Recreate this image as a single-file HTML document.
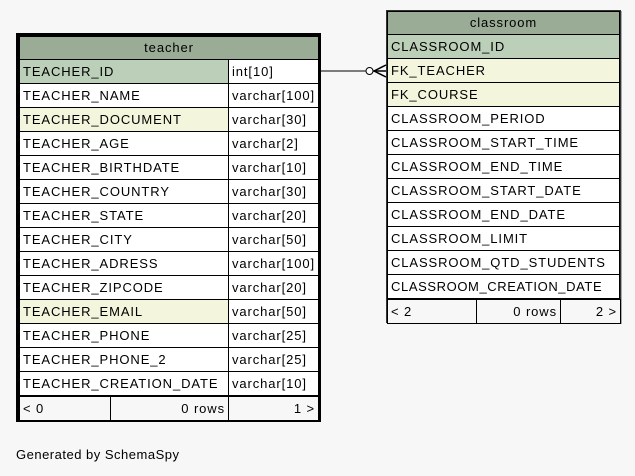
<!DOCTYPE html>
<html><head><style>
body{margin:0;width:635px;height:476px;background:#f7f7f7;font-family:"Liberation Sans",Arial,sans-serif;font-size:13px;position:relative;overflow:hidden}
.box{position:absolute;box-sizing:border-box}
table{border-collapse:collapse;table-layout:fixed;width:100%}
td{border:1px solid #000;height:24px;padding:0 3px;white-space:nowrap;overflow:hidden;line-height:20px;box-sizing:border-box;background:#fff;letter-spacing:0.9px}
td.h{background:#9aab96;text-align:center;height:23px}
td.pk{background:#bccfb8}
td.fk{background:#f3f5dc}
td.r{text-align:right}
td.f{background:#f7f7f7}
</style></head><body>
<div class="box" style="left:16px;top:33px;width:305px;height:389px;border:3px solid #000;">
<table>
<col style="width:209px"><col style="width:90px">
<tr><td class="h" colspan="2">teacher</td></tr>
<tr><td class="pk">TEACHER_ID</td><td>int[10]</td></tr>
<tr><td>TEACHER_NAME</td><td>varchar[100]</td></tr>
<tr><td class="fk">TEACHER_DOCUMENT</td><td>varchar[30]</td></tr>
<tr><td>TEACHER_AGE</td><td>varchar[2]</td></tr>
<tr><td>TEACHER_BIRTHDATE</td><td>varchar[10]</td></tr>
<tr><td>TEACHER_COUNTRY</td><td>varchar[30]</td></tr>
<tr><td>TEACHER_STATE</td><td>varchar[20]</td></tr>
<tr><td>TEACHER_CITY</td><td>varchar[50]</td></tr>
<tr><td>TEACHER_ADRESS</td><td>varchar[100]</td></tr>
<tr><td>TEACHER_ZIPCODE</td><td>varchar[20]</td></tr>
<tr><td class="fk">TEACHER_EMAIL</td><td>varchar[50]</td></tr>
<tr><td>TEACHER_PHONE</td><td>varchar[25]</td></tr>
<tr><td>TEACHER_PHONE_2</td><td>varchar[25]</td></tr>
<tr><td>TEACHER_CREATION_DATE</td><td>varchar[10]</td></tr>
</table>
<table><col style="width:91px"><col style="width:118px"><col style="width:90px">
<tr><td class="f">&lt; 0</td><td class="r f">0 rows</td><td class="r f">1 &gt;</td></tr></table>
</div>

<div class="box" style="left:386px;top:10px;width:235px;height:313px;border:1px solid #333;box-shadow:1px 1px 0 #aaa;">
<table>
<tr><td class="h" colspan="3">classroom</td></tr>
<tr><td class="pk" colspan="3">CLASSROOM_ID</td></tr>
<tr><td class="fk" colspan="3">FK_TEACHER</td></tr>
<tr><td class="fk" colspan="3">FK_COURSE</td></tr>
<tr><td colspan="3">CLASSROOM_PERIOD</td></tr>
<tr><td colspan="3">CLASSROOM_START_TIME</td></tr>
<tr><td colspan="3">CLASSROOM_END_TIME</td></tr>
<tr><td colspan="3">CLASSROOM_START_DATE</td></tr>
<tr><td colspan="3">CLASSROOM_END_DATE</td></tr>
<tr><td colspan="3">CLASSROOM_LIMIT</td></tr>
<tr><td colspan="3">CLASSROOM_QTD_STUDENTS</td></tr>
<tr><td colspan="3" style="letter-spacing:0.6px">CLASSROOM_CREATION_DATE</td></tr>
</table>
<table><col style="width:89px"><col style="width:84px"><col style="width:60px">
<tr><td class="f">&lt; 2</td><td class="r f">0 rows</td><td class="r f">2 &gt;</td></tr></table>
</div>

<svg style="position:absolute;left:0;top:0" width="635" height="476">
<line x1="321" y1="71" x2="366" y2="71" stroke="#000" stroke-width="1"/>
<circle cx="369.5" cy="71" r="3.5" fill="#fff" stroke="#000" stroke-width="1"/>
<line x1="373" y1="71" x2="386" y2="71" stroke="#000" stroke-width="1.5"/>
<line x1="374" y1="71" x2="386" y2="65" stroke="#000" stroke-width="1.5"/>
<line x1="374" y1="71" x2="386" y2="77" stroke="#000" stroke-width="1.5"/>
</svg>

<div class="box" style="left:16px;top:447px;font-size:13px;letter-spacing:0.5px">Generated by SchemaSpy</div>
</body></html>
